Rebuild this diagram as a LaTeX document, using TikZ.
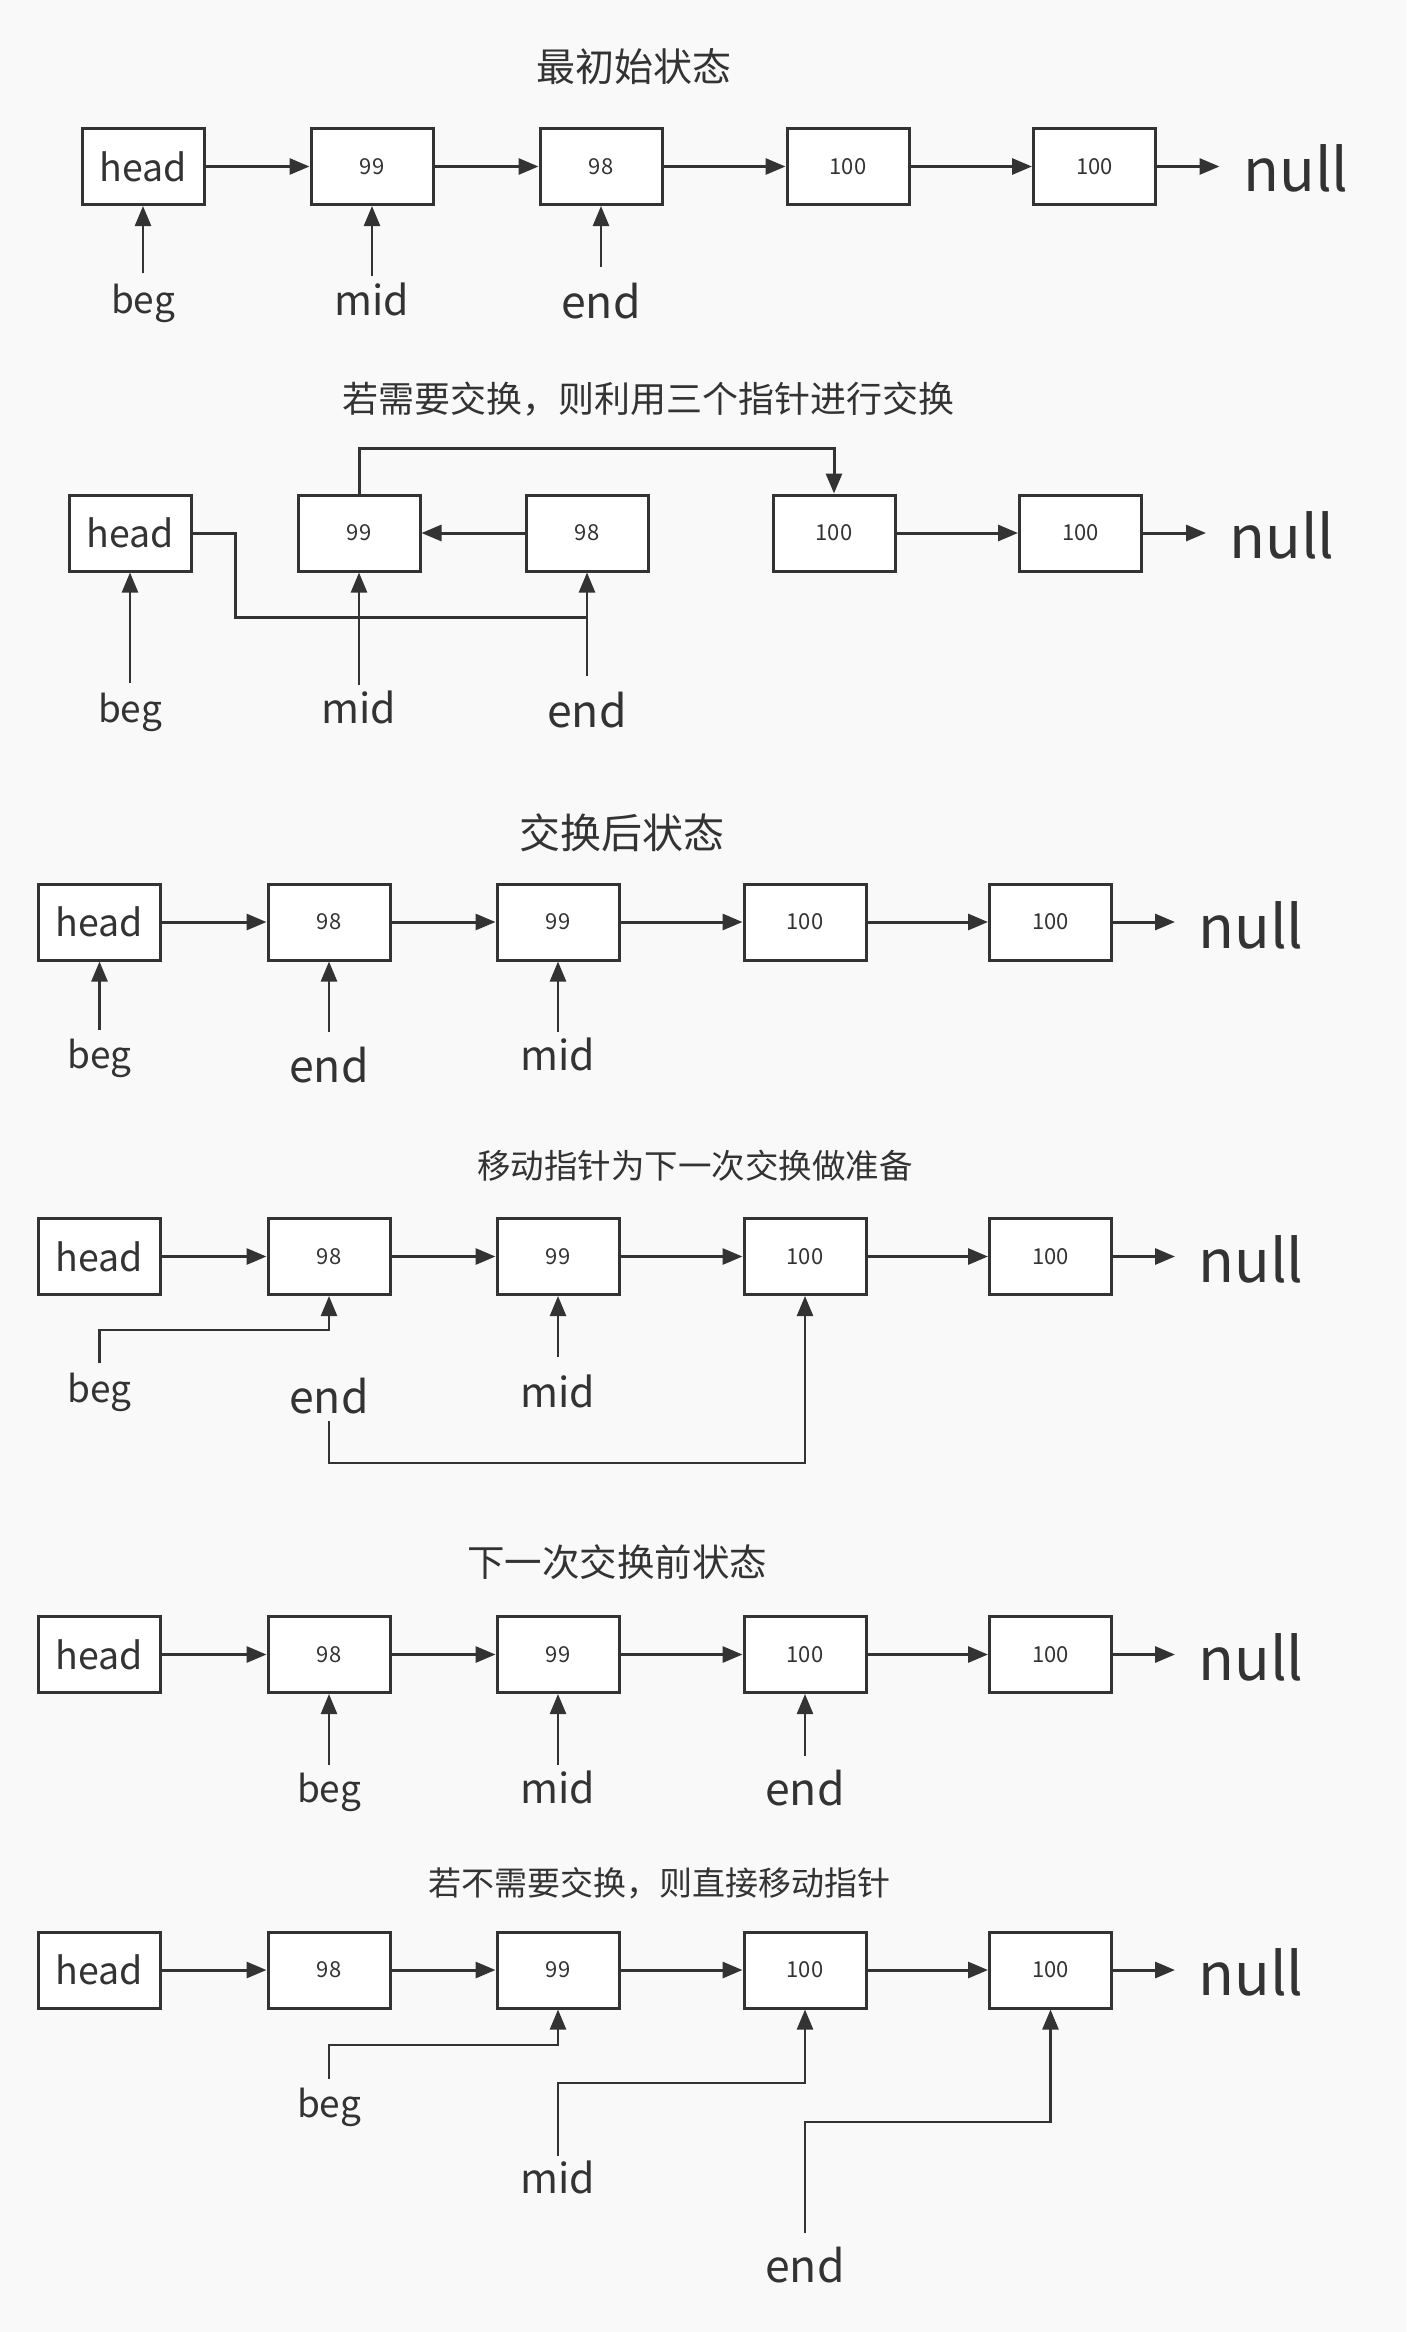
\documentclass[tikz,border=0pt]{standalone}
\usepackage{fontspec}
\setmainfont{Noto Sans CJK SC}
\usetikzlibrary{arrows.meta}
\definecolor{lc}{HTML}{333333}
\definecolor{bgc}{HTML}{F9F9F9}
\begin{document}
\begin{tikzpicture}[x=1pt,y=-1pt,
  box/.style={draw=lc, fill=white, line width=3pt, minimum width=122pt, minimum height=76pt, inner sep=0pt, text=lc, font=\fontsize{22}{22}\selectfont},
  hbox/.style={box, font=\fontsize{37.5}{37.5}\selectfont},
  link/.style={draw=lc, line width=3pt, -{Triangle[length=20pt,width=16pt]}},
  wire/.style={draw=lc, line width=3pt},
  ptr/.style={draw=lc, line width=2.5pt, -{Triangle[length=20pt,width=16pt]}},
  lab/.style={text=lc, inner sep=0pt, anchor=base},
  fbeg/.style={lab, font=\fontsize{37}{37}\selectfont},
  fmid/.style={lab, font=\fontsize{41}{41}\selectfont},
  fend/.style={lab, font=\fontsize{44.5}{44.5}\selectfont},
  nul/.style={text=lc, inner sep=0pt, font=\fontsize{59}{59}\selectfont},
  ttl/.style={text=lc, inner sep=0pt},
]
\useasboundingbox (0,0) rectangle (1406,2332);
\fill[bgc] (0,0) rectangle (1406,2332);

%% ---------- Panel 1 ----------
\node[ttl, font=\fontsize{39}{39}\selectfont] (t1) at (634,67) {最初始状态};
\node[hbox] (h1) at (143,166.5) {head};
\node[box] (a1) at (372,166.5) {99};
\node[box] (b1) at (601,166.5) {98};
\node[box] (c1) at (848,166.5) {100};
\node[box] (d1) at (1094.5,166.5) {100};
\coordinate (z1) at (1219.5,166.5);
\node[nul] (n1) at (1296,168) {null};
\draw[link] (h1.east) -- (a1.west);
\draw[link] (a1.east) -- (b1.west);
\draw[link] (b1.east) -- (c1.west);
\draw[link] (c1.east) -- (d1.west);
\draw[link] (d1.east) -- (z1);
\node[fbeg] (lb1) at (143,313) {beg};
\node[fmid] (lm1) at (372,315) {mid};
\node[fend] (le1) at (601,318) {end};
\coordinate (sb1) at (143,273);
\coordinate (sm1) at (372,276);
\coordinate (se1) at (601,267);
\draw[ptr] (sb1) -- (h1.south);
\draw[ptr] (sm1) -- (a1.south);
\draw[ptr] (se1) -- (b1.south);

%% ---------- Panel 2 ----------
\node[ttl, font=\fontsize{36}{36}\selectfont] (t2) at (648,399) {若需要交换，则利用三个指针进行交换};
\node[hbox] (h2) at (130,533) {head};
\node[box] (a2) at (359,533) {99};
\node[box] (b2) at (587,533) {98};
\node[box] (c2) at (834,533) {100};
\node[box] (d2) at (1080.5,533) {100};
\coordinate (z2) at (1206,533);
\node[nul] (n2) at (1282,535) {null};
\draw[link] (a2.north) -- ++(0,-45) -| (c2.north);
\draw[link] (b2.west) -- (a2.east);
\draw[link] (c2.east) -- (d2.west);
\draw[link] (d2.east) -- (z2);
\coordinate (j2) at (587,617);
\draw[wire] (h2.east) -- ++(43,0) |- (j2);
\node[fbeg] (lb2) at (130,722) {beg};
\node[fmid] (lm2) at (359,723) {mid};
\node[fend] (le2) at (587,727) {end};
\coordinate (sb2) at (130,683);
\coordinate (sm2) at (359,685);
\coordinate (se2) at (587,676);
\draw[ptr] (sb2) -- (h2.south);
\draw[ptr] (sm2) -- (a2.south);
\draw[ptr] (se2) -- (b2.south);

%% ---------- Panel 3 ----------
\node[ttl, font=\fontsize{41}{41}\selectfont] (t3) at (622,833) {交换后状态};
\node[hbox] (h3) at (99.5,922) {head};
\node[box] (a3) at (329,922) {98};
\node[box] (b3) at (558,922) {99};
\node[box] (c3) at (805,922) {100};
\node[box] (d3) at (1050.5,922) {100};
\coordinate (z3) at (1175,922);
\node[nul] (n3) at (1251,925) {null};
\draw[link] (h3.east) -- (a3.west);
\draw[link] (a3.east) -- (b3.west);
\draw[link] (b3.east) -- (c3.west);
\draw[link] (c3.east) -- (d3.west);
\draw[link] (d3.east) -- (z3);
\node[fbeg] (lb3) at (99.5,1068) {beg};
\node[fend] (le3) at (329,1082) {end};
\node[fmid] (lm3) at (558,1070) {mid};
\coordinate (sb3) at (99.5,1030);
\coordinate (se3) at (329,1032);
\coordinate (sm3) at (558,1032);
\draw[ptr] (sb3) -- (h3.south);
\draw[ptr] (se3) -- (a3.south);
\draw[ptr] (sm3) -- (b3.south);

%% ---------- Panel 4 ----------
\node[ttl, font=\fontsize{33.5}{33.5}\selectfont] (t4) at (695,1166) {移动指针为下一次交换做准备};
\node[hbox] (h4) at (99.5,1256.5) {head};
\node[box] (a4) at (329,1256.5) {98};
\node[box] (b4) at (558,1256.5) {99};
\node[box] (c4) at (805,1256.5) {100};
\node[box] (d4) at (1050.5,1256.5) {100};
\coordinate (z4) at (1175,1256.5);
\node[nul] (n4) at (1251,1259) {null};
\draw[link] (h4.east) -- (a4.west);
\draw[link] (a4.east) -- (b4.west);
\draw[link] (b4.east) -- (c4.west);
\draw[link] (c4.east) -- (d4.west);
\draw[link] (d4.east) -- (z4);
\node[fbeg] (lb4) at (99.5,1402) {beg};
\node[fend] (le4) at (329,1413) {end};
\node[fmid] (lm4) at (558,1407) {mid};
\coordinate (sb4) at (99.5,1363);
\coordinate (se4) at (329,1421);
\coordinate (sm4) at (558,1357);
\draw[ptr] (sb4) -- ++(0,-33) -| (a4.south);
\draw[ptr] (sm4) -- (b4.south);
\draw[ptr] (se4) -- ++(0,42) -| (c4.south);

%% ---------- Panel 5 ----------
\node[ttl, font=\fontsize{37.5}{37.5}\selectfont] (t5) at (617,1562) {下一次交换前状态};
\node[hbox] (h5) at (99.5,1654.5) {head};
\node[box] (a5) at (329,1654.5) {98};
\node[box] (b5) at (558,1654.5) {99};
\node[box] (c5) at (805,1654.5) {100};
\node[box] (d5) at (1050.5,1654.5) {100};
\coordinate (z5) at (1175,1654.5);
\node[nul] (n5) at (1251,1657) {null};
\draw[link] (h5.east) -- (a5.west);
\draw[link] (a5.east) -- (b5.west);
\draw[link] (b5.east) -- (c5.west);
\draw[link] (c5.east) -- (d5.west);
\draw[link] (d5.east) -- (z5);
\node[fbeg] (lb5) at (329,1802) {beg};
\node[fmid] (lm5) at (558,1803) {mid};
\node[fend] (le5) at (805,1805) {end};
\coordinate (sb5) at (329,1765);
\coordinate (sm5) at (558,1765);
\coordinate (se5) at (805,1756);
\draw[ptr] (sb5) -- (a5.south);
\draw[ptr] (sm5) -- (b5.south);
\draw[ptr] (se5) -- (c5.south);

%% ---------- Panel 6 ----------
\node[ttl, font=\fontsize{33}{33}\selectfont] (t6) at (659,1883) {若不需要交换，则直接移动指针};
\node[hbox] (h6) at (99.5,1970) {head};
\node[box] (a6) at (329,1970) {98};
\node[box] (b6) at (558,1970) {99};
\node[box] (c6) at (805,1970) {100};
\node[box] (d6) at (1050.5,1970) {100};
\coordinate (z6) at (1175,1970);
\node[nul] (n6) at (1251,1972) {null};
\draw[link] (h6.east) -- (a6.west);
\draw[link] (a6.east) -- (b6.west);
\draw[link] (b6.east) -- (c6.west);
\draw[link] (c6.east) -- (d6.west);
\draw[link] (d6.east) -- (z6);
\node[fbeg] (lb6) at (329,2117) {beg};
\node[fmid] (lm6) at (558,2193) {mid};
\node[fend] (le6) at (805,2282) {end};
\coordinate (sb6) at (329,2079);
\coordinate (sm6) at (558,2156);
\coordinate (se6) at (805,2233);
\draw[ptr] (sb6) -- ++(0,-34) -| (b6.south);
\draw[ptr] (sm6) -- ++(0,-73) -| (c6.south);
\draw[ptr] (se6) -- ++(0,-111) -| (d6.south);
\end{tikzpicture}
\end{document}
